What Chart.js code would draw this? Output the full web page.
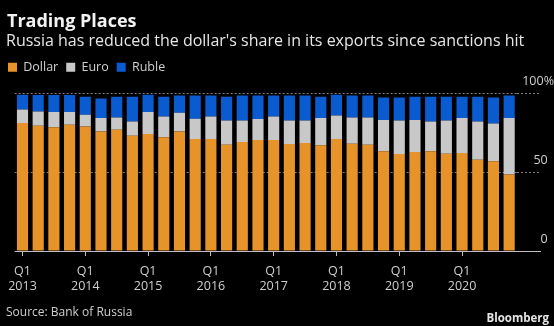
<!DOCTYPE html>
<html>
<head>
<meta charset="utf-8">
<script src="https://cdn.jsdelivr.net/npm/chart.js@4.4.1/dist/chart.umd.min.js"></script>
<style>
  html, body { margin: 0; padding: 0; background: #000; }
  body { width: 554px; height: 326px; position: relative; overflow: hidden; font-family: "Open Sans", sans-serif; }
  .txt { position: absolute; white-space: nowrap; }
  #title { left: 7px; top: 10px; font-size: 18px; line-height: 20px; font-weight: bold; color: #f2f2f2; }
  #subtitle { left: 6px; top: 31px; font-size: 16px; line-height: 18px; color: #e6e6e6; }
  #source { left: 6px; top: 305px; font-size: 12px; line-height: 14px; color: #cfcfcf; }
  #brand { right: 5px; top: 311px; font-size: 11.5px; line-height: 14px; font-weight: bold; color: #e6e6e6; }
  #box { position: absolute; left: 0; top: 0; width: 554px; height: 326px; }
</style>
</head>
<body>
<div id="box"><canvas id="shareChart"></canvas></div>
<div class="txt" id="title">Trading Places</div>
<div class="txt" id="subtitle">Russia has reduced the dollar's share in its exports since sanctions hit</div>
<div class="txt" id="source">Source: Bank of Russia</div>
<div class="txt" id="brand">Bloomberg</div>
<script>
// 季度标签 Q1 2013 ... Q4 2020
const YEARS = [2013, 2014, 2015, 2016, 2017, 2018, 2019, 2020];
const QUARTERS = ['Q1', 'Q2', 'Q3', 'Q4'];
const quarterLabels = YEARS.flatMap(y => QUARTERS.map(q => `${q} ${y}`));

// 出口结算货币占比 (%)
const dollarShare = [81.2, 79.5, 78.5, 80.2, 79.1, 75.9, 77.0, 73.2,
                     74.3, 72.2, 75.9, 71.1, 71.1, 67.5, 69.2, 70.5,
                     70.5, 67.9, 68.6, 67.1, 71.1, 68.1, 67.5, 63.3,
                     61.6, 62.9, 63.3, 61.8, 62.2, 58.0, 57.0, 48.5];
const euroShare = [8.7, 9.1, 9.7, 8.0, 7.4, 8.5, 7.8, 9.1,
                   13.9, 13.2, 11.9, 12.9, 14.3, 15.4, 13.7, 13.3,
                   14.9, 15.0, 14.3, 17.3, 15.0, 16.7, 17.3, 19.8,
                   21.3, 20.2, 19.0, 21.1, 22.2, 24.3, 24.0, 35.9];
const rubleShare = [9.3, 10.4, 10.8, 10.8, 11.4, 12.4, 13.1, 15.6,
                    11.0, 12.5, 10.9, 14.7, 13.3, 15.0, 15.8, 14.9,
                    13.3, 15.8, 15.8, 13.5, 13.1, 13.9, 13.9, 14.4,
                    14.6, 14.8, 15.6, 15.0, 13.5, 15.6, 16.5, 14.3];

const Y_TICKS = [0, 50, 100];

const COLORS = { dollar: '#e6932a', euro: '#c8c8c8', ruble: '#0b5bd0' };
const FONT = '"Open Sans", sans-serif';
const TICK_FONT = { family: FONT, size: 12.5 };

// 右侧刻度文字右对齐
const measureLabel = (text) => {
    const c = document.createElement('canvas').getContext('2d');
    c.font = `${TICK_FONT.size}px ${FONT}`;
    return c.measureText(text).width;
};
const Y_AXIS_WIDTH = 37;
const Y_TICK_LEN = 24;
const yLabelPadding = Y_AXIS_WIDTH - 11 - Y_TICK_LEN - measureLabel('100%');

const isBase = (ctx) => ctx.tick && ctx.tick.value === 0;

// 图例下方留白
const legendSpacer = {
    id: 'legendSpacer',
    beforeInit(chart) {
        const fit = chart.legend.fit;
        chart.legend.fit = function () {
            fit.call(this);
            this.height += 10;
        };
    }
};

const ctx = document.getElementById('shareChart').getContext('2d');
new Chart(ctx, {
    type: 'bar',
    data: {
        labels: quarterLabels,
        datasets: [
            { label: 'Dollar', data: dollarShare, backgroundColor: COLORS.dollar, yAxisID: 'y' },
            { label: 'Euro', data: euroShare, backgroundColor: COLORS.euro, yAxisID: 'y' },
            { label: 'Ruble', data: rubleShare, backgroundColor: COLORS.ruble, yAxisID: 'y' }
        ]
    },
    plugins: [legendSpacer],
    options: {
        responsive: true,
        maintainAspectRatio: false,
        animation: false,
        layout: { padding: { top: 53, bottom: 24, left: 0, right: 0 } },
        datasets: {
            bar: { barPercentage: 0.71, categoryPercentage: 1, borderWidth: 0 }
        },
        plugins: {
            tooltip: { enabled: false },
            legend: {
                position: 'top',
                align: 'start',
                labels: {
                    boxWidth: 9,
                    boxHeight: 9,
                    padding: 8,
                    color: '#cfcfcf',
                    font: { family: FONT, size: 12.5 }
                }
            }
        },
        scales: {
            x: {
                stacked: true,
                grid: { display: true, drawOnChartArea: false, offset: false, tickLength: 5, tickColor: '#bdbdbd' },
                border: { display: false },
                ticks: {
                    autoSkip: false,
                    maxRotation: 0,
                    padding: 8,
                    color: '#cfcfcf',
                    font: TICK_FONT,
                    callback: function (value) {
                        const [q, y] = this.getLabelForValue(value).split(' ');
                        return q === 'Q1' ? [q, y] : null;
                    }
                }
            },
            // 左侧占位轴，只为留出左边距
            pad: {
                type: 'linear',
                position: 'left',
                display: true,
                afterFit: (s) => { s.width = 13; },
                ticks: { display: false },
                grid: { display: false },
                border: { display: false }
            },
            y: {
                stacked: true,
                position: 'right',
                min: 0,
                max: 100,
                afterFit: (s) => { s.width = Y_AXIS_WIDTH; },
                afterBuildTicks: (s) => { s.ticks = Y_TICKS.map(v => ({ value: v })); },
                border: { display: false, dash: (c) => isBase(c) ? [] : [2, 2] },
                grid: {
                    color: (c) => isBase(c) ? '#bdbdbd' : '#808080',
                    tickColor: (c) => isBase(c) ? '#bdbdbd' : '#808080',
                    tickBorderDash: (c) => isBase(c) ? [] : [2, 2],
                    tickLength: Y_TICK_LEN
                },
                ticks: {
                    crossAlign: 'far',
                    padding: yLabelPadding,
                    labelOffset: -12,
                    color: '#cfcfcf',
                    font: TICK_FONT,
                    callback: (v) => v === 100 ? '100%' : v + '\u2002'
                }
            }
        }
    }
});
</script>
</body>
</html>
